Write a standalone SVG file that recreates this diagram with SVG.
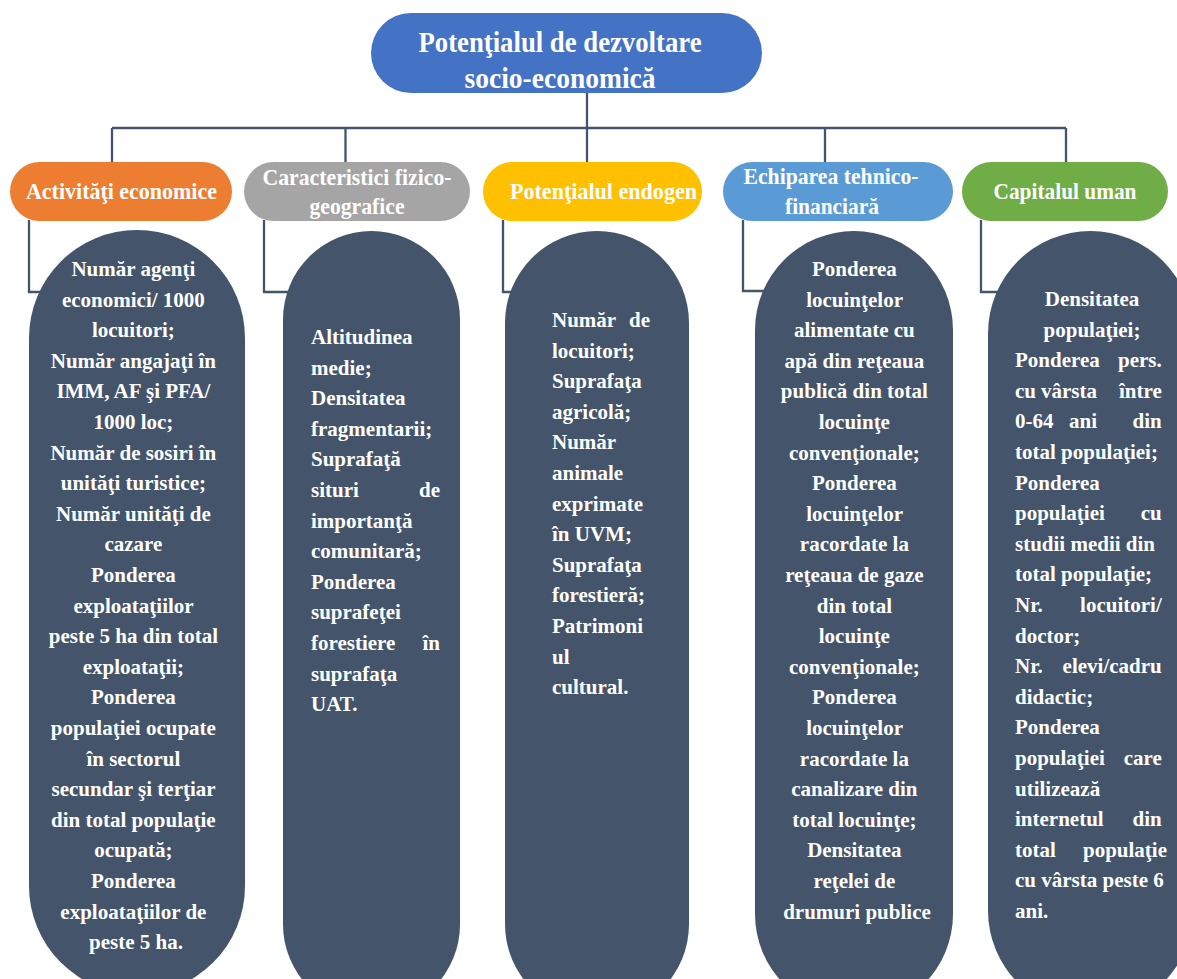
<svg xmlns="http://www.w3.org/2000/svg" width="1177" height="979" viewBox="0 0 1177 979">
<style>
.conn{fill:none;stroke:#44546A;stroke-width:2.3}
.pill{fill:#44546A}
.ttl{font-family:"Liberation Serif",serif;font-size:29px;font-weight:bold;fill:#fff;text-anchor:middle}
.hdr{font-family:"Liberation Serif",serif;font-size:23px;font-weight:bold;fill:#fff;text-anchor:middle}
.b{font-family:"Liberation Serif",serif;font-size:21px;font-weight:bold;fill:#fff}
.c{text-anchor:middle}
.e{text-anchor:end}
</style>
<rect width="1177" height="979" fill="#fff"/>
<g id="connectors" class="conn">
<path d="M587 93V162"/>
<path d="M112 128H1066"/>
<path d="M112 128V162M345.5 128V162M825 128V162M1066 128V162"/>
<path d="M29 220V292H45"/>
<path d="M264 220V292H292"/>
<path d="M503 220V292H515"/>
<path d="M743 220V291H768"/>
<path d="M981 220V292H1002"/>
</g>
<g id="root">
<rect x="371" y="13" width="391" height="80" rx="40" fill="#4472C4"/>
<text class="ttl" x="560" y="52" textLength="283" lengthAdjust="spacingAndGlyphs">Potenţialul de dezvoltare</text>
<text class="ttl" x="560" y="88" textLength="191" lengthAdjust="spacingAndGlyphs">socio-economică</text>
</g>
<g id="h1">
<rect x="10" y="162" width="222" height="59" rx="29.5" fill="#ED7D31"/>
<text class="hdr" x="121.5" y="199" textLength="191" lengthAdjust="spacingAndGlyphs">Activităţi economice</text>
</g>
<g id="h2">
<rect x="244" y="162" width="226" height="59" rx="29.5" fill="#A5A5A5"/>
<text class="hdr" x="357" y="185" textLength="189" lengthAdjust="spacingAndGlyphs">Caracteristici fizico-</text>
<text class="hdr" x="357" y="214" textLength="95" lengthAdjust="spacingAndGlyphs">geografice</text>
</g>
<g id="h3">
<rect x="483" y="162" width="219" height="59" rx="29.5" fill="#FFC000"/>
<text class="hdr" x="603.5" y="199" textLength="187" lengthAdjust="spacingAndGlyphs">Potenţialul endogen</text>
</g>
<g id="h4">
<rect x="723" y="162" width="230" height="59" rx="29.5" fill="#5B9BD5"/>
<text class="hdr" x="831" y="184" textLength="175" lengthAdjust="spacingAndGlyphs">Echiparea tehnico-</text>
<text class="hdr" x="832" y="214" textLength="94" lengthAdjust="spacingAndGlyphs">financiară</text>
</g>
<g id="h5">
<rect x="962" y="162" width="206" height="59" rx="29.5" fill="#70AD47"/>
<text class="hdr" x="1065" y="199" textLength="143" lengthAdjust="spacingAndGlyphs">Capitalul uman</text>
</g>
<g id="p1">
<rect class="pill" x="29" y="230" width="216" height="764" rx="108"/>
<text class="b c">
<tspan x="136" y="276">Număr agenţi</tspan>
<tspan x="136" y="306.6">economici/ 1000</tspan>
<tspan x="136" y="337.2">locuitori;</tspan>
<tspan x="136" y="367.8">Număr angajaţi în</tspan>
<tspan x="136" y="398.4">IMM, AF şi PFA/</tspan>
<tspan x="136" y="429">1000 loc;</tspan>
<tspan x="136" y="459.6">Număr de sosiri în</tspan>
<tspan x="136" y="490.2">unităţi turistice;</tspan>
<tspan x="136" y="520.8">Număr unităţi de</tspan>
<tspan x="136" y="551.4">cazare</tspan>
<tspan x="136" y="582">Ponderea</tspan>
<tspan x="136" y="612.6">exploataţiilor</tspan>
<tspan x="136" y="643.2">peste 5 ha din total</tspan>
<tspan x="136" y="673.8">exploataţii;</tspan>
<tspan x="136" y="704.4">Ponderea</tspan>
<tspan x="136" y="735">populaţiei ocupate</tspan>
<tspan x="136" y="765.6">în sectorul</tspan>
<tspan x="136" y="796.2">secundar şi terţiar</tspan>
<tspan x="136" y="826.8">din total populaţie</tspan>
<tspan x="136" y="857.4">ocupată;</tspan>
<tspan x="136" y="888">Ponderea</tspan>
<tspan x="136" y="918.6">exploataţiilor de</tspan>
<tspan x="136" y="949.2">peste 5 ha.</tspan>
</text>
</g>
<g id="p2">
<rect class="pill" x="283" y="231" width="177" height="782" rx="88.5"/>
<text class="b">
<tspan x="311" y="344">Altitudinea</tspan>
<tspan x="311" y="374.6">medie;</tspan>
<tspan x="311" y="405.2">Densitatea</tspan>
<tspan x="311" y="435.8">fragmentarii;</tspan>
<tspan x="311" y="466.4">Suprafaţă</tspan>
<tspan x="311" y="497">situri</tspan>
<tspan x="311" y="527.6">importanţă</tspan>
<tspan x="311" y="558.2">comunitară;</tspan>
<tspan x="311" y="588.8">Ponderea</tspan>
<tspan x="311" y="619.4">suprafeţei</tspan>
<tspan x="311" y="650">forestiere</tspan>
<tspan x="311" y="680.6">suprafaţa</tspan>
<tspan x="311" y="711.2">UAT.</tspan>
</text>
<text class="b e"><tspan x="440" y="497">de</tspan><tspan x="440" y="650">în</tspan></text>
</g>
<g id="p3">
<rect class="pill" x="505" y="231" width="184" height="785" rx="92"/>
<text class="b">
<tspan x="552" y="327">Număr</tspan>
<tspan x="552" y="357.6">locuitori;</tspan>
<tspan x="552" y="388.2">Suprafaţa</tspan>
<tspan x="552" y="418.8">agricolă;</tspan>
<tspan x="552" y="449.4">Număr</tspan>
<tspan x="552" y="480">animale</tspan>
<tspan x="552" y="510.6">exprimate</tspan>
<tspan x="552" y="541.2">în UVM;</tspan>
<tspan x="552" y="571.8">Suprafaţa</tspan>
<tspan x="552" y="602.4">forestieră;</tspan>
<tspan x="552" y="633">Patrimoni</tspan>
<tspan x="552" y="663.6">ul</tspan>
<tspan x="552" y="694.2">cultural.</tspan>
</text>
<text class="b e" x="650" y="327">de</text>
</g>
<g id="p4">
<rect class="pill" x="755" y="231" width="198" height="782" rx="99"/>
<text class="b c">
<tspan x="857" y="276">Ponderea</tspan>
<tspan x="857" y="306.6">locuinţelor</tspan>
<tspan x="857" y="337.2">alimentate cu</tspan>
<tspan x="857" y="367.8">apă din reţeaua</tspan>
<tspan x="857" y="398.4">publică din total</tspan>
<tspan x="857" y="429">locuinţe</tspan>
<tspan x="857" y="459.6">convenţionale;</tspan>
<tspan x="857" y="490.2">Ponderea</tspan>
<tspan x="857" y="520.8">locuinţelor</tspan>
<tspan x="857" y="551.4">racordate la</tspan>
<tspan x="857" y="582">reţeaua de gaze</tspan>
<tspan x="857" y="612.6">din total</tspan>
<tspan x="857" y="643.2">locuinţe</tspan>
<tspan x="857" y="673.8">convenţionale;</tspan>
<tspan x="857" y="704.4">Ponderea</tspan>
<tspan x="857" y="735">locuinţelor</tspan>
<tspan x="857" y="765.6">racordate la</tspan>
<tspan x="857" y="796.2">canalizare din</tspan>
<tspan x="857" y="826.8">total locuinţe;</tspan>
<tspan x="857" y="857.4">Densitatea</tspan>
<tspan x="857" y="888">reţelei de</tspan>
<tspan x="857" y="918.6">drumuri publice</tspan>
</text>
</g>
<g id="p5">
<rect class="pill" x="988" y="231" width="205" height="782" rx="102.5"/>
<text class="b c"><tspan x="1092" y="306">Densitatea</tspan><tspan x="1092" y="336.6">populaţiei;</tspan></text>
<text class="b">
<tspan x="1015" y="367.2">Ponderea</tspan>
<tspan x="1015" y="397.8">cu</tspan>
<tspan x="1015" y="428.4">0-64</tspan>
<tspan x="1015" y="459">total populaţiei;</tspan>
<tspan x="1015" y="489.6">Ponderea</tspan>
<tspan x="1015" y="520.2">populaţiei</tspan>
<tspan x="1015" y="550.8">studii medii din</tspan>
<tspan x="1015" y="581.4">total populaţie;</tspan>
<tspan x="1015" y="612">Nr.</tspan>
<tspan x="1015" y="642.6">doctor;</tspan>
<tspan x="1015" y="673.2">Nr.</tspan>
<tspan x="1015" y="703.8">didactic;</tspan>
<tspan x="1015" y="734.4">Ponderea</tspan>
<tspan x="1015" y="765">populaţiei</tspan>
<tspan x="1015" y="795.6">utilizează</tspan>
<tspan x="1015" y="826.2">internetul</tspan>
<tspan x="1015" y="856.8">total</tspan>
<tspan x="1015" y="887.4">cu vârsta peste 6</tspan>
<tspan x="1015" y="918">ani.</tspan>
</text>
<text class="b c"><tspan x="1069" y="397.8">vârsta</tspan><tspan x="1083" y="428.4">ani</tspan></text>
<text class="b e">
<tspan x="1167" y="367.2">pers.</tspan>
<tspan x="1167" y="397.8">între</tspan>
<tspan x="1167" y="428.4">din</tspan>
<tspan x="1167" y="520.2">cu</tspan>
<tspan x="1167" y="612">locuitori/</tspan>
<tspan x="1167" y="673.2">elevi/cadru</tspan>
<tspan x="1167" y="765">care</tspan>
<tspan x="1167" y="826.2">din</tspan>
<tspan x="1167" y="856.8">populaţie</tspan>
</text>
</g>
</svg>
